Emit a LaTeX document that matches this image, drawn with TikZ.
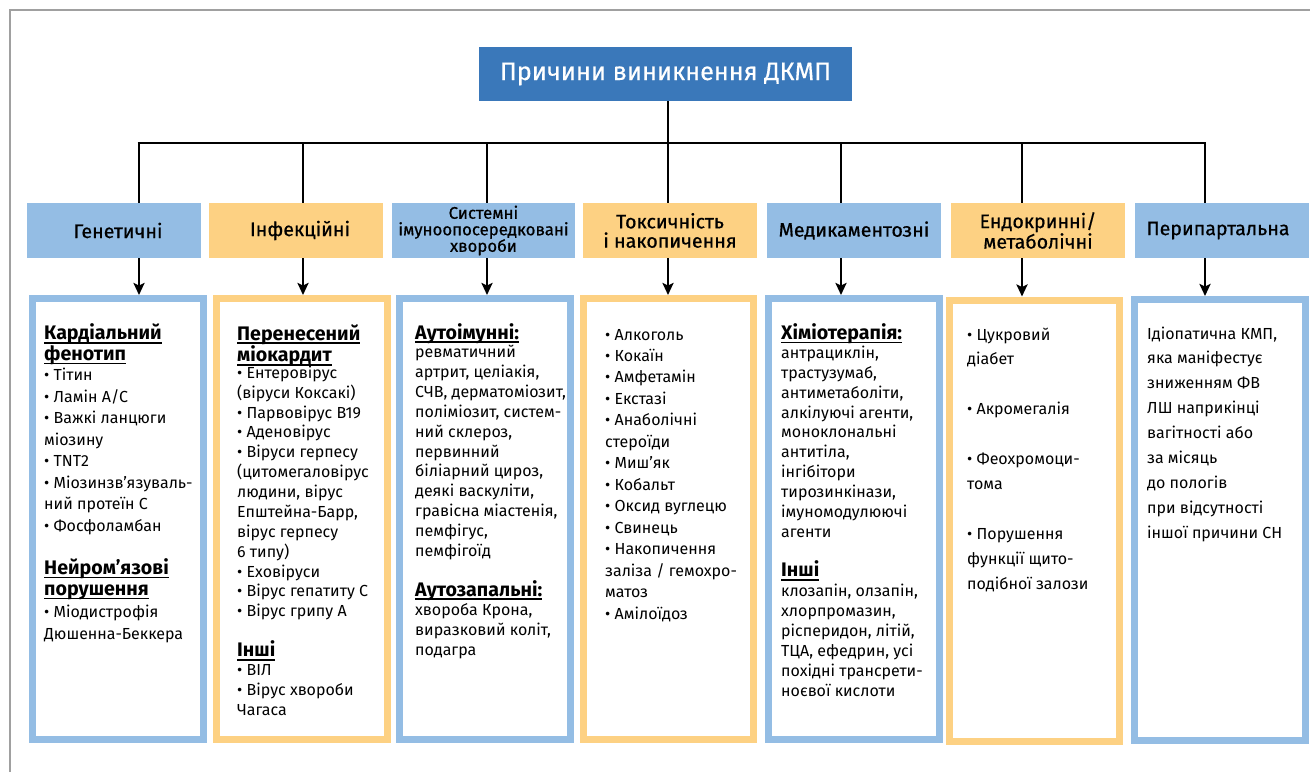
\documentclass[tikz,border=0pt]{standalone}
\usepackage{fontspec}
\setmainfont{Fira Sans}
\newfontfamily\catfont[FakeBold=0.6]{Fira Sans}
\newfontfamily\ttlfont[FakeBold=0.4]{Fira Sans}
\usetikzlibrary{arrows.meta}
\definecolor{cblue}{RGB}{148,189,228}
\definecolor{corange}{RGB}{253,209,131}
\definecolor{ctitle}{RGB}{58,120,186}
\definecolor{cframe}{RGB}{160,160,160}
\newcommand\hdu[1]{\setbox0\hbox{#1}\rlap{\usebox0}\rule[-4pt]{\wd0}{1.8pt}}
\newcommand\blk[2]{\fontsize{16}{#1}\selectfont\begin{tabular}[t]{@{}l@{}}#2\end{tabular}}
\newcommand\hblk[2]{\fontsize{19.6}{#1}\selectfont\bfseries\begin{tabular}[t]{@{}l@{}}#2\end{tabular}}
\tikzset{
  txt/.style={anchor=base west, inner sep=0pt},
  catbox/.style={minimum width=174pt, minimum height=55pt, inner sep=0pt, align=center,
    font=\catfont\fontsize{19.6}{19.3}\selectfont},
  cbox/.style={draw, line width=7pt, fill=white, minimum width=171pt, minimum height=441pt, inner sep=0pt},
  bus/.style={line width=2.8pt, black},
  arr/.style={line width=2.4pt, black, -{Stealth[length=12pt,width=11pt,inset=2.5pt]}}
}
\begin{document}
\begin{tikzpicture}[x=1pt,y=-1pt]
\useasboundingbox (0,0) rectangle (1310,772);
\draw[cframe, line width=1.5pt] (10,772) -- (10,10) -- (1310,10);

% title
\node[fill=ctitle, minimum width=373pt, minimum height=54pt, inner sep=0pt, text=white,
  font=\ttlfont\fontsize{25.2}{30}\selectfont] (title) at (665.5,74) {Причини виникнення ДКМП};

% categories
\node[catbox, fill=cblue] (c1) at (114,230.5) {\hspace*{8pt}Генетичні};
\node[catbox, fill=corange] (c2) at (296,230.5) {\hspace*{8pt}Інфекційні};
\node[catbox, fill=cblue, minimum width=183pt, font=\catfont\fontsize{16.8}{16.5}\selectfont] (c3) at (483.5,230.5) {Системні\\імуноопосередковані\\хвороби};
\node[catbox, fill=corange] (c4) at (670,230.5) {Токсичність\\і накопичення};
\node[catbox, fill=cblue] (c5) at (854,230.5) {Медикаментозні};
\node[catbox, fill=corange] (c6) at (1038,230.5) {Ендокринні/\\метаболічні};
\node[catbox, fill=cblue] (c7) at (1222,230.5) {Перипартальна\hspace*{8pt}};

% content boxes
\node[cbox, draw=cblue] (b1) at (118,519) {};
\node[cbox, draw=corange] (b2) at (302,519) {};
\node[cbox, draw=cblue] (b3) at (485,519) {};
\node[cbox, draw=corange, minimum width=170pt] (b4) at (668.5,519) {};
\node[cbox, draw=cblue] (b5) at (854,519) {};
\node[cbox, draw=corange, minimum width=170pt] (b6) at (1034.5,520.5) {};
\node[cbox, draw=cblue] (b7) at (1220,520) {};

% connectors
\coordinate (j1) at (139,143);
\coordinate (j2) at (303,143);
\coordinate (j3) at (487,143);
\coordinate (j4) at (668,143);
\coordinate (j5) at (841,143);
\coordinate (j6) at (1022,143);
\coordinate (j7) at (1205,143);
\draw[bus] (title.south -| j4) -- (j4);
\draw[bus] ([xshift=-1.4pt]j1) -- ([xshift=1.4pt]j7);
\foreach \k in {1,...,7}{
  \draw[bus] ([yshift=-1.4pt]j\k) -- (j\k |- c\k.north);
  \draw[arr] (j\k |- c\k.south) -- (j\k |- b\k.north);
}

% box 1
\node[txt] (g1) at (44,339.5) {\hblk{20}{\hdu{Кардіальний}\\\hdu{фенотип}}};
\node[txt] (g2) at (44,380.7) {\blk{21.5}{• Тітин\\• Ламін A/C\\• Важкі ланцюги\\міозину\\• TNT2\\• Міозинзв’язуваль-\\ний протеїн С\\• Фосфоламбан}};
\node[txt] (g3) at (44,574.3) {\hblk{21}{\hdu{Нейром’язові}\\\hdu{порушення}}};
\node[txt] (g4) at (44,617.7) {\blk{21.5}{• Міодистрофія\\Дюшенна-Беккера}};

% box 2
\node[txt] (i1) at (237,340) {\hblk{19.3}{\hdu{Перенесений}\\\hdu{міокардит}}};
\node[txt] (i2) at (237,378.3) {\blk{19.87}{• Ентеровірус\\(віруси Коксакі)\\• Парвовірус B19\\• Аденовірус\\• Віруси герпесу\\(цитомегаловірус\\людини, вірус\\Епштейна-Барр,\\вірус герпесу\\6 типу)\\• Еховіруси\\• Вірус гепатиту С\\• Вірус грипу А}};
\node[txt] (i3) at (237,656.7) {\hblk{20}{\hdu{Інші}}};
\node[txt] (i4) at (237,675.7) {\blk{20}{• ВІЛ\\• Вірус хвороби\\Чагаса}};

% box 3
\node[txt] (s1) at (415,339) {\hblk{20}{\hdu{Аутоімунні:}}};
\node[txt] (s2) at (415,357.3) {\blk{19.94}{ревматичний\\артрит, целіакія,\\СЧВ, дерматоміозит,\\поліміозит, систем-\\ний склероз,\\первинний\\біліарний цироз,\\деякі васкуліти,\\гравісна міастенія,\\пемфігус,\\пемфігоїд}};
\node[txt] (s3) at (415,596) {\hblk{20}{\hdu{Аутозапальні:}}};
\node[txt] (s4) at (415,615.7) {\blk{20}{хвороба Крона,\\виразковий коліт,\\подагра}};

% box 4
\node[txt] (t1) at (605,340) {\blk{21.48}{• Алкоголь\\• Кокаїн\\• Амфетамін\\• Екстазі\\• Анаболічні\\стероїди\\• Миш’як\\• Кобальт\\• Оксид вуглецю\\• Свинець\\• Накопичення\\заліза / гемохро-\\матоз\\• Амілоїдоз}};

% box 5
\node[txt] (m1) at (781,339.3) {\hblk{20}{\hdu{Хіміотерапія:}}};
\node[txt] (m2) at (781,358.3) {\blk{19.9}{антрациклін,\\трастузумаб,\\антиметаболіти,\\алкілуючі агенти,\\моноклональні\\антитіла,\\інгібітори\\тирозинкінази,\\імуномодулюючі\\агенти}};
\node[txt] (m3) at (781,576.7) {\hblk{20}{\hdu{Інші}}};
\node[txt] (m4) at (781,596.7) {\blk{19.9}{клозапін, олзапін,\\хлорпромазин,\\рісперидон, літій,\\ТЦА, ефедрин, усі\\похідні трансрети-\\ноєвої кислоти}};

% box 6
\node[txt] (e1) at (967,340) {\blk{24.9}{• Цукровий\\діабет\\[24.9pt]• Акромегалія\\[24.9pt]• Феохромоци-\\тома\\[24.9pt]• Порушення\\функції щито-\\подібної залози}};

% box 7
\node[txt] (p1) at (1147,339) {\blk{24.9}{Ідіопатична КМП,\\яка маніфестує\\зниженням ФВ\\ЛШ наприкінці\\вагітності або\\за місяць\\до пологів\\при відсутності\\іншої причини СН}};
\end{tikzpicture}
\end{document}
